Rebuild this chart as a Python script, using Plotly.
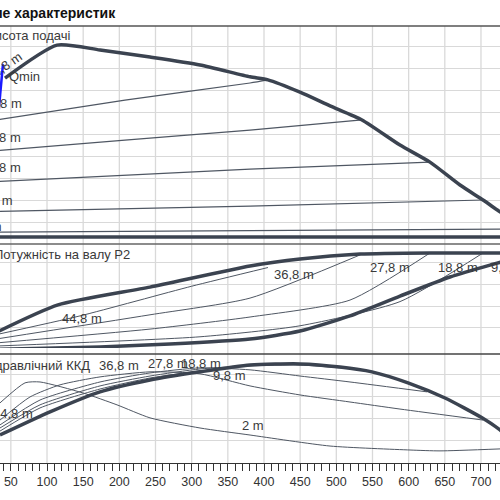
import plotly.graph_objects as go

# ---------------- DATA ----------------
# Top panel: head H [m] vs flow Q
q_hmax = [41.9, 113.8, 173.3, 242.4, 311.5, 380.7, 405.5, 449.8, 491.3, 535.5, 588.0, 629.5, 671.0, 702.8, 726.3, 754.5]
h_hmax = [37.7, 45.2, 44.1, 42.5, 40.7, 38.0, 37.3, 34.5, 31.4, 28.2, 22.5, 18.6, 13.4, 10.0, 7.3, 4.3]

q_h368 = [30.0, 207.8, 380.7, 405.5]
h_h368 = [28.2, 32.7, 36.6, 37.3]
q_h278 = [30.0, 207.8, 380.7, 535.5]
h_h278 = [21.2, 23.6, 25.9, 28.2]
q_h188 = [30.0, 380.7, 629.5]
h_h188 = [14.2, 17.0, 18.6]
q_h98 = [30.0, 380.7, 702.8]
h_h98 = [7.4, 8.6, 10.0]
q_h2 = [30.0, 740.0]
h_h2 = [2.7, 3.4]
q_qmin = [33.0, 39.1]
h_qmin = [30.0, 40.9]

# Middle panel: shaft power P2
q_pmax = [30.0, 115.2, 242.4, 380.7, 449.8, 532.7, 629.5, 740.0]
p_pmax = [0.8, 2.05, 2.86, 3.82, 4.14, 4.36, 4.41, 4.41]
q_pmin = [30.0, 173.3, 270.0, 380.7, 449.8, 518.9, 588.0, 657.2, 712.5, 740.0]
p_pmin = [0.03, 0.14, 0.27, 0.50, 0.86, 1.55, 2.45, 3.32, 3.86, 4.1]
q_p368 = [30.0, 145.6, 300.0, 405.5]
p_p368 = [0.7, 1.55, 2.9, 3.75]
q_p278 = [30.0, 242.4, 380.7, 535.5]
p_p278 = [0.5, 1.6, 2.36, 4.36]
q_p188 = [30.0, 242.4, 380.7, 518.9, 629.5]
p_p188 = [0.32, 0.95, 1.5, 2.27, 4.41]
q_p98 = [30.0, 311.5, 449.8, 588.0, 702.8]
p_p98 = [0.18, 0.6, 1.1, 2.2, 4.41]

# Bottom panel: hydraulic efficiency [%]
q_emax = [35.0, 104.1, 173.3, 242.4, 311.5, 380.7, 449.8, 505.1, 549.3, 599.1, 650.3, 701.4, 726.3, 740.0]
e_emax = [12.7, 23.2, 32.3, 37.7, 41.4, 44.5, 45.0, 43.6, 41.4, 36.4, 29.5, 20.5, 15.0, 11.0]
q_e368 = [35.0, 90.3, 173.3, 242.4, 311.5, 405.5]
e_e368 = [14.5, 25.0, 33.6, 38.6, 41.8, 45.0]
q_e278 = [35.0, 90.3, 173.3, 242.4, 311.5, 380.7, 449.8, 535.5]
e_e278 = [15.9, 26.4, 35.0, 39.5, 42.7, 44.1, 44.5, 42.3]
q_e188 = [35.0, 90.3, 173.3, 242.4, 311.5, 380.7, 449.8, 518.9, 625.4]
e_e188 = [17.3, 28.6, 36.8, 40.9, 43.2, 42.3, 39.5, 36.8, 32.3]
q_e98 = [35.0, 76.5, 118.0, 173.3, 242.4, 311.5, 380.7, 449.8, 518.9, 588.0, 702.8]
e_e98 = [19.5, 30.0, 35.5, 39.1, 41.4, 40.5, 35.0, 30.9, 27.7, 24.5, 19.5]
q_e2 = [35.0, 69.6, 90.3, 149.8, 196.8, 242.4, 311.5, 380.7, 491.3, 601.9, 643.3, 726.3]
e_e2 = [27.3, 36.4, 36.8, 31.8, 26.4, 20.5, 15.9, 12.7, 7.7, 5.9, 5.5, 6.4]

x_ticks = [50, 100, 150, 200, 250, 300, 350, 400, 450, 500, 550, 600, 650, 700]

# ---------------- STYLE ----------------
THICK = "#3b4350"
THIN = "#4f5763"
GRID = "#d9d9d9"
FONT = "Liberation Sans"

fig = go.Figure()

def line(q, v, yax, width, color=THIN):
    fig.add_trace(go.Scatter(x=q, y=v, xaxis="x", yaxis=yax, mode="lines",
                             line=dict(color=color, width=width, shape="spline", smoothing=0.6),
                             hoverinfo="skip", showlegend=False))

# top
for q, h in [(q_h368, h_h368), (q_h278, h_h278), (q_h188, h_h188), (q_h98, h_h98), (q_h2, h_h2)]:
    line(q, h, "y", 1.2)
line(q_hmax, h_hmax, "y", 3.5, THICK)
line(q_qmin, h_qmin, "y", 2.5, "#1a1aff")
# middle
for q, p in [(q_p368, p_p368), (q_p278, p_p278), (q_p188, p_p188), (q_p98, p_p98)]:
    line(q, p, "y2", 1.0)
line(q_pmax, p_pmax, "y2", 3.5, THICK)
line(q_pmin, p_pmin, "y2", 3.5, THICK)
# bottom
for q, e in [(q_e368, e_e368), (q_e278, e_e278), (q_e188, e_e188), (q_e98, e_e98), (q_e2, e_e2)]:
    line(q, e, "y3", 1.0)
line(q_emax, e_emax, "y3", 3.5, THICK)

# plot area: top 26 px, bottom axis at 463 px -> height 437
def fy(py):
    return (463 - py) / 437.0

def fx(px):
    return px / 500.0

yax_common = dict(showline=False, zeroline=False, showticklabels=False, ticks="",
                  showgrid=True, gridcolor=GRID, gridwidth=1.3)
layout = dict(
    width=500, height=500,
    margin=dict(l=0, r=0, t=26, b=37),
    paper_bgcolor="white", plot_bgcolor="white",
    font=dict(family=FONT, size=13, color="#333333"),
    xaxis=dict(range=[35.0, 726.3], anchor="y3", showgrid=False, zeroline=False,
               tickmode="array", tickvals=x_ticks, ticks="outside", ticklen=7,
               tickcolor="#333333", tickwidth=1, showline=True, linecolor="#333333",
               linewidth=1, tickfont=dict(family=FONT, size=12.5, color="#333333"),
               minor=dict(dtick=10, tick0=0, ticks="outside", ticklen=7,
                          tickcolor="#333333", tickwidth=1, showgrid=False)),
    yaxis=dict(domain=[fy(237), 1.0], range=[1.59, 49.55], tick0=0, dtick=5, **yax_common),
    yaxis2=dict(domain=[fy(348), fy(244)], anchor="x", range=[0.09, 4.82], tick0=0, dtick=1, **yax_common),
    yaxis3=dict(domain=[0.0, fy(354)], anchor="x", range=[0.0, 49.5], tick0=0, dtick=10, **yax_common),
)
fig.update_layout(**layout)

shapes = []
# vertical grid lines through all panels
for xv in range(50, 751, 50):
    shapes.append(dict(type="line", xref="x", yref="paper", x0=xv, x1=xv, y0=0, y1=1,
                       line=dict(color=GRID, width=1.3), layer="below"))
# panel borders
shapes.append(dict(type="line", xref="paper", yref="paper", x0=0, x1=1, y0=1, y1=1,
                   line=dict(color="#555555", width=1.5)))
shapes.append(dict(type="line", xref="paper", yref="paper", x0=0, x1=1, y0=fy(237), y1=fy(237),
                   line=dict(color=THICK, width=3.5)))
shapes.append(dict(type="line", xref="paper", yref="paper", x0=0, x1=1, y0=fy(244), y1=fy(244),
                   line=dict(color="#666666", width=1.3)))
shapes.append(dict(type="line", xref="paper", yref="paper", x0=0, x1=1, y0=fy(354), y1=fy(354),
                   line=dict(color="#444444", width=1.3)))
fig.update_layout(shapes=shapes)

ann = []
def txt(text, px, py, xanchor="center", size=13, angle=0, bold=False, color="#3a3a3a"):
    ann.append(dict(text=("<b>%s</b>" % text) if bold else text, xref="paper", yref="paper",
                    x=fx(px), y=fy(py), xanchor=xanchor, yanchor="middle", showarrow=False,
                    textangle=angle, font=dict(family=FONT, size=size, color=color)))

txt("Робоче поле характеристик", 118, 13, "right", 14, bold=True, color="#111111")
txt("Висота подачі", 72, 35, "right")
txt("Qmin", 7, 77, "left")
txt("44,8 m", 4, 66, "center", angle=-35)
txt("36,8 m", 24, 104, "right")
txt("27,8 m", 23, 137, "right")
txt("18,8 m", 23, 168, "right")
txt("9,8 m", 15, 200, "right")
txt("2 m", 4, 227, "right")

txt("Потужність на валу P2", 132, 254, "right")
txt("44,8 m", 60, 318, "left")
txt("36,8 m", 272, 274, "left")
txt("27,8 m", 368, 267, "left")
txt("18,8 m", 436, 267, "left")
txt("9,8 m", 489, 267, "left")

txt("Гідравлічний ККД", 92, 365, "right")
txt("36,8 m", 97, 365, "left")
txt("27,8 m", 146, 363, "left")
txt("18,8 m", 179, 363, "left")
txt("9,8 m", 211, 375, "left")
txt("2 m", 240, 425, "left")
txt("44,8 m", 35, 413, "right")
fig.update_layout(annotations=ann)

fig.write_html("out.html")
